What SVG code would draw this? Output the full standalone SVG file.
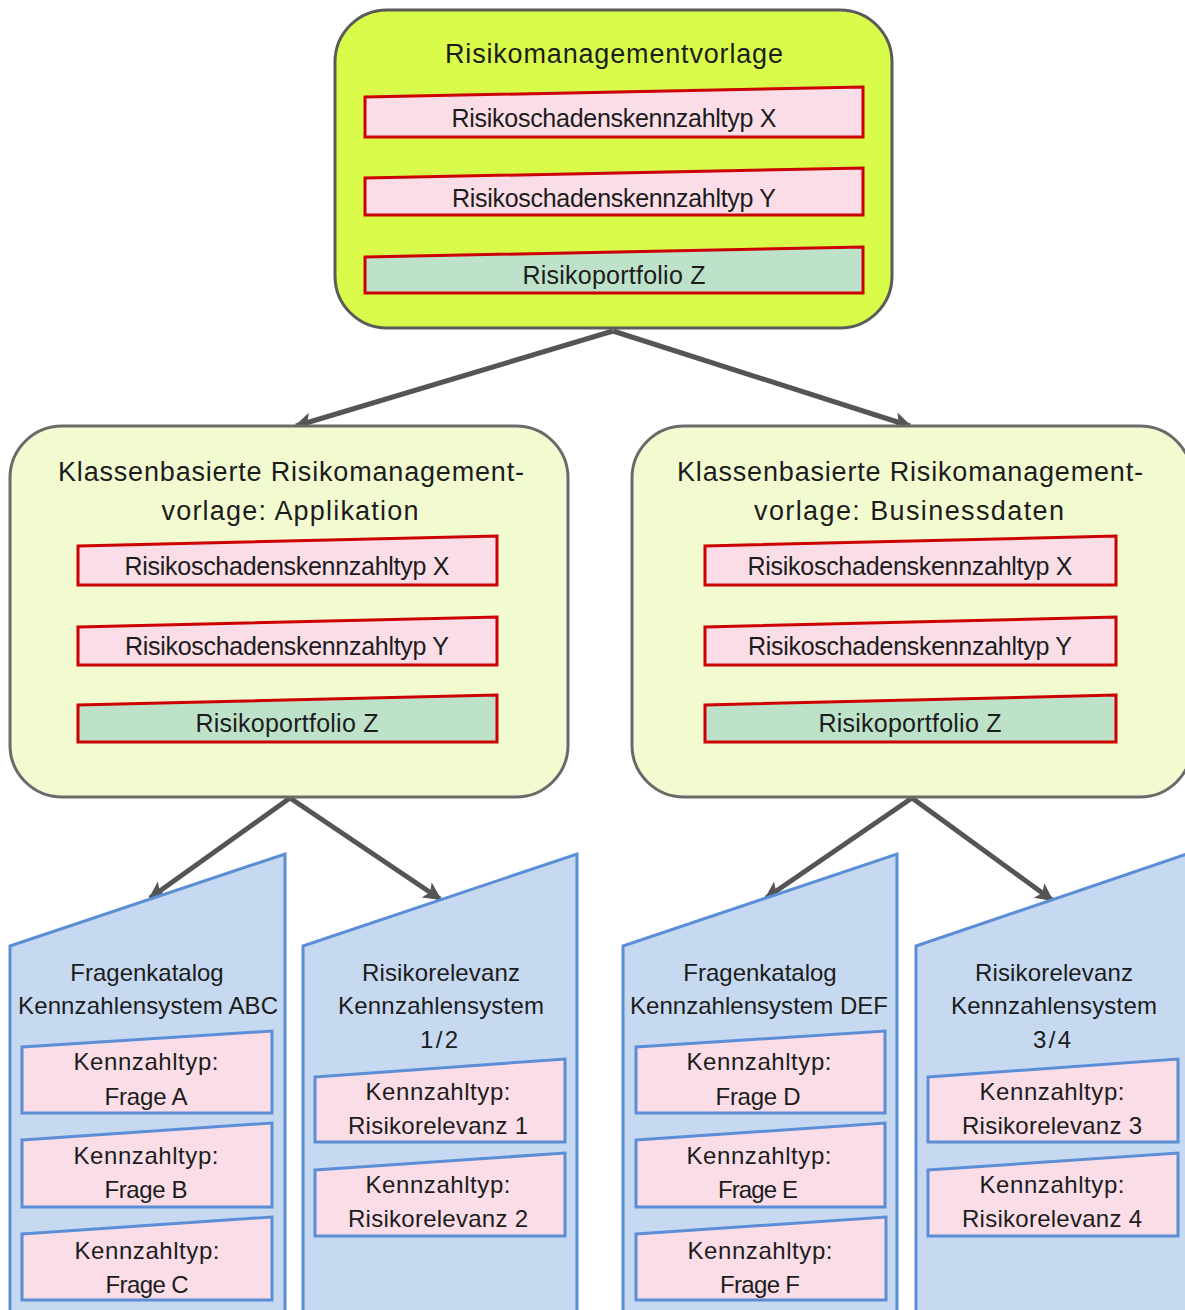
<svg xmlns="http://www.w3.org/2000/svg" width="1185" height="1310" viewBox="0 0 1185 1310">
<defs>
<style>
.t{font-family:"Liberation Sans",Arial,sans-serif;fill:#1c1c1c;text-anchor:middle}
.ttl{font-size:27px}
.big{font-size:25px}
.mid{font-size:24px}
.top{fill:#d9fc4a;stroke:#5a5a5a;stroke-width:3}
.sub{fill:#f2fbd0;stroke:#6a6a6a;stroke-width:3}
.pk{fill:#fadde6;stroke:#cc0000;stroke-width:3}
.gr{fill:#bde2c9;stroke:#cc0000;stroke-width:3}
.bl{fill:#c6d9f0;stroke:#5b8ed6;stroke-width:3}
.bp{fill:#fadde6;stroke:#5b8ed6;stroke-width:3}
.ln{stroke:#555;stroke-width:5;fill:none}
</style>
<marker id="ah" markerUnits="userSpaceOnUse" markerWidth="22" markerHeight="22" viewBox="0 0 22 22" refX="18" refY="11" orient="auto">
<path d="M2,2 L20,11 L2,20 L6,11 z" fill="#555"/>
</marker>
</defs>

<g id="connectors">
<line class="ln" x1="613" y1="331" x2="296" y2="426" marker-end="url(#ah)"/>
<line class="ln" x1="613" y1="331" x2="910" y2="426" marker-end="url(#ah)"/>
<line class="ln" x1="290" y1="798" x2="150" y2="898" marker-end="url(#ah)"/>
<line class="ln" x1="290" y1="798" x2="440" y2="899" marker-end="url(#ah)"/>
<line class="ln" x1="912" y1="798" x2="766" y2="898" marker-end="url(#ah)"/>
<line class="ln" x1="912" y1="798" x2="1052" y2="900" marker-end="url(#ah)"/>
</g>

<g id="top">
<rect class="top" x="335" y="10" width="557" height="318" rx="52"/>
<text class="t ttl" x="614" y="63" textLength="338">Risikomanagementvorlage</text>
<polygon class="pk" points="365,97 863,87 863,137 365,137"/>
<text class="t big" x="614" y="127" textLength="325">Risikoschadenskennzahltyp  X</text>
<polygon class="pk" points="365,178 863,168 863,215 365,215"/>
<text class="t big" x="614" y="207" textLength="324">Risikoschadenskennzahltyp  Y</text>
<polygon class="gr" points="365,257 863,247 863,293 365,293"/>
<text class="t big" x="614" y="284" textLength="183">Risikoportfolio  Z</text>
</g>

<g id="app">
<rect class="sub" x="10" y="426" width="558" height="371" rx="52"/>
<text class="t ttl" x="291" y="481" textLength="466">Klassenbasierte Risikomanagement-</text>
<text class="t ttl" x="290" y="520" textLength="257">vorlage: Applikation</text>
<polygon class="pk" points="78,546 497,536 497,585 78,585"/>
<text class="t big" x="287" y="575" textLength="325">Risikoschadenskennzahltyp  X</text>
<polygon class="pk" points="78,627 497,617 497,665 78,665"/>
<text class="t big" x="287" y="655" textLength="324">Risikoschadenskennzahltyp  Y</text>
<polygon class="gr" points="78,705 497,695 497,742 78,742"/>
<text class="t big" x="287" y="732" textLength="183">Risikoportfolio  Z</text>
</g>

<g id="biz">
<rect class="sub" x="632" y="426" width="560" height="371" rx="52"/>
<text class="t ttl" x="910" y="481" textLength="466">Klassenbasierte Risikomanagement-</text>
<text class="t ttl" x="909" y="520" textLength="310">vorlage:  Businessdaten</text>
<polygon class="pk" points="705,546 1116,536 1116,585 705,585"/>
<text class="t big" x="910" y="575" textLength="325">Risikoschadenskennzahltyp  X</text>
<polygon class="pk" points="705,627 1116,617 1116,665 705,665"/>
<text class="t big" x="910" y="655" textLength="324">Risikoschadenskennzahltyp  Y</text>
<polygon class="gr" points="705,705 1116,695 1116,742 705,742"/>
<text class="t big" x="910" y="732" textLength="183">Risikoportfolio  Z</text>
</g>

<g id="abc">
<polygon class="bl" points="10,946 285,854 285,1315 10,1315"/>
<text class="t mid" x="147" y="981">Fragenkatalog</text>
<text class="t mid" x="148" y="1014" textLength="260">Kennzahlensystem  ABC</text>
<polygon class="bp" points="22,1047 272,1031 272,1113 22,1113"/>
<text class="t mid" x="146" y="1070" textLength="145">Kennzahltyp:</text>
<text class="t mid" x="146" y="1105" textLength="83">Frage A</text>
<polygon class="bp" points="22,1140 272,1123 272,1207 22,1207"/>
<text class="t mid" x="146" y="1164" textLength="145">Kennzahltyp:</text>
<text class="t mid" x="146" y="1198" textLength="83">Frage B</text>
<polygon class="bp" points="22,1234 272,1217 272,1300 22,1300"/>
<text class="t mid" x="147" y="1259" textLength="145">Kennzahltyp:</text>
<text class="t mid" x="147" y="1293" textLength="83">Frage C</text>
</g>

<g id="rel12">
<polygon class="bl" points="303,946 577,854 577,1315 303,1315"/>
<text class="t mid" x="441" y="981" textLength="158">Risikorelevanz</text>
<text class="t mid" x="441" y="1014" textLength="206">Kennzahlensystem</text>
<text class="t mid" x="439" y="1048" textLength="38">1/2</text>
<polygon class="bp" points="315,1077 565,1059 565,1142 315,1142"/>
<text class="t mid" x="438" y="1100" textLength="145">Kennzahltyp:</text>
<text class="t mid" x="438" y="1134" textLength="180">Risikorelevanz 1</text>
<polygon class="bp" points="315,1170 565,1153 565,1236 315,1236"/>
<text class="t mid" x="438" y="1193" textLength="145">Kennzahltyp:</text>
<text class="t mid" x="438" y="1227" textLength="180">Risikorelevanz 2</text>
</g>

<g id="def">
<polygon class="bl" points="623,946 897,854 897,1315 623,1315"/>
<text class="t mid" x="760" y="981">Fragenkatalog</text>
<text class="t mid" x="759" y="1014" textLength="258">Kennzahlensystem  DEF</text>
<polygon class="bp" points="636,1047 885,1031 885,1113 636,1113"/>
<text class="t mid" x="759" y="1070" textLength="145">Kennzahltyp:</text>
<text class="t mid" x="758" y="1105" textLength="85">Frage D</text>
<polygon class="bp" points="636,1140 885,1123 885,1207 636,1207"/>
<text class="t mid" x="759" y="1164" textLength="145">Kennzahltyp:</text>
<text class="t mid" x="758" y="1198" textLength="80">Frage E</text>
<polygon class="bp" points="636,1234 886,1217 886,1300 636,1300"/>
<text class="t mid" x="760" y="1259" textLength="145">Kennzahltyp:</text>
<text class="t mid" x="760" y="1293" textLength="80">Frage F</text>
</g>

<g id="rel34">
<polygon class="bl" points="916,946 1190,853 1190,1315 916,1315"/>
<text class="t mid" x="1054" y="981" textLength="158">Risikorelevanz</text>
<text class="t mid" x="1054" y="1014" textLength="206">Kennzahlensystem</text>
<text class="t mid" x="1052" y="1048" textLength="38">3/4</text>
<polygon class="bp" points="928,1077 1178,1059 1178,1142 928,1142"/>
<text class="t mid" x="1052" y="1100" textLength="145">Kennzahltyp:</text>
<text class="t mid" x="1052" y="1134" textLength="180">Risikorelevanz 3</text>
<polygon class="bp" points="928,1170 1178,1153 1178,1236 928,1236"/>
<text class="t mid" x="1052" y="1193" textLength="145">Kennzahltyp:</text>
<text class="t mid" x="1052" y="1227" textLength="180">Risikorelevanz 4</text>
</g>
</svg>
